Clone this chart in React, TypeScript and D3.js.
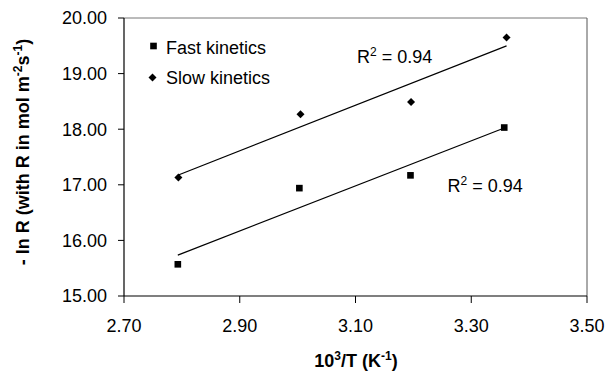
import React from "react";
import * as d3 from "d3";

const xFast = [2.793, 3.003, 3.195, 3.357];
const yFast = [15.57, 16.94, 17.17, 18.03];
const xSlow = [2.794, 3.005, 3.196, 3.361];
const ySlow = [17.13, 18.27, 18.49, 19.65];
const xTicks = [2.7, 2.9, 3.1, 3.3, 3.5];
const yTicks = [15, 16, 17, 18, 19, 20];
const seriesNames = ["Fast kinetics", "Slow kinetics"];
const r2Labels = ["0.94", "0.94"];

const W = 608, H = 374;
const M = { left: 124, top: 18, right: 21, bottom: 78 };
const FONT = "Arial, 'Liberation Sans', sans-serif";

function fit(xs: number[], ys: number[]) {
  const mx = d3.mean(xs)!, my = d3.mean(ys)!;
  let sxy = 0, sxx = 0;
  xs.forEach((x, i) => { sxy += (x - mx) * (ys[i] - my); sxx += (x - mx) ** 2; });
  const b = sxy / sxx;
  const a = my - b * mx;
  const x0 = d3.min(xs)!, x1 = d3.max(xs)!;
  return [[x0, a + b * x0], [x1, a + b * x1]] as [number, number][];
}

export default function App() {
  const x = d3.scaleLinear().domain([2.7, 3.5]).range([M.left, W - M.right]);
  const y = d3.scaleLinear().domain([15, 20]).range([H - M.bottom, M.top]);
  const line = d3.line<[number, number]>().x(d => x(d[0])).y(d => y(d[1]));
  const fastFit = fit(xFast, yFast);
  const slowFit = fit(xSlow, ySlow);
  const sq = d3.symbol().type(d3.symbolSquare).size(44)()!;
  const dia = d3.symbol().type(d3.symbolSquare).size(32)()!;
  const x0 = M.left, x1 = W - M.right, y0 = H - M.bottom, y1 = M.top;

  return (
    <svg width={W} height={H} style={{ position: "absolute", left: 0, top: 0, background: "#fff" }} fontFamily={FONT}>
      <rect x={0} y={0} width={W} height={H} fill="#fff" />
      <line x1={x0} x2={x1} y1={y1} y2={y1} stroke="#777" strokeWidth={1} />
      <line x1={x1} x2={x1} y1={y1} y2={y0} stroke="#555" strokeWidth={1} />
      <line x1={x0} x2={x0} y1={y1} y2={y0} stroke="#000" strokeWidth={1.2} />
      <line x1={x0} x2={x1} y1={y0} y2={y0} stroke="#000" strokeWidth={1.2} />
      {yTicks.map(t => (
        <g key={"y" + t}>
          <line x1={x0 - 6} x2={x0} y1={y(t)} y2={y(t)} stroke="#000" />
          <text x={x0 - 17} y={y(t)} dy="0.36em" textAnchor="end" fontSize={18}>{t.toFixed(2)}</text>
        </g>
      ))}
      {xTicks.map(t => (
        <g key={"x" + t}>
          <line x1={x(t)} x2={x(t)} y1={y0} y2={y0 + 7} stroke="#000" />
          <text x={x(t)} y={332} textAnchor="middle" fontSize={18}>{t.toFixed(2)}</text>
        </g>
      ))}
      <path d={line(fastFit)!} fill="none" stroke="#000" strokeWidth={1.2} />
      <path d={line(slowFit)!} fill="none" stroke="#000" strokeWidth={1.2} />
      {xFast.map((v, i) => (
        <path key={"f" + i} d={sq} transform={`translate(${x(v)},${y(yFast[i])})`} fill="#000" />
      ))}
      {xSlow.map((v, i) => (
        <path key={"s" + i} d={dia} transform={`translate(${x(v)},${y(ySlow[i])}) rotate(45)`} fill="#000" />
      ))}
      <path d={sq} transform="translate(153.5,46)" fill="#000" />
      <text x={166} y={54} fontSize={18}>{seriesNames[0]}</text>
      <path d={dia} transform="translate(152.5,77.5) rotate(45)" fill="#000" />
      <text x={166} y={84} fontSize={18}>{seriesNames[1]}</text>
      <text x={357} y={63} fontSize={18}>R<tspan fontSize={12} dy={-7}>2</tspan><tspan dy={7}> = {r2Labels[1]}</tspan></text>
      <text x={447.5} y={192} fontSize={18}>R<tspan fontSize={12} dy={-7}>2</tspan><tspan dy={7}> = {r2Labels[0]}</tspan></text>
      <text x={356} y={367} textAnchor="middle" fontSize={18} fontWeight="bold">10<tspan fontSize={12} dy={-7}>3</tspan><tspan dy={7}>/T (K</tspan><tspan fontSize={12} dy={-7}>-1</tspan><tspan dy={7}>)</tspan></text>
      <text transform={`translate(29,${(y0 + y1) / 2 - 5}) rotate(-90)`} textAnchor="middle" fontSize={18} fontWeight="bold">- ln R (with R in mol m<tspan fontSize={12} dy={-7}>-2</tspan><tspan dy={7}>s</tspan><tspan fontSize={12} dy={-7}>-1</tspan><tspan dy={7}>)</tspan></text>
    </svg>
  );
}
